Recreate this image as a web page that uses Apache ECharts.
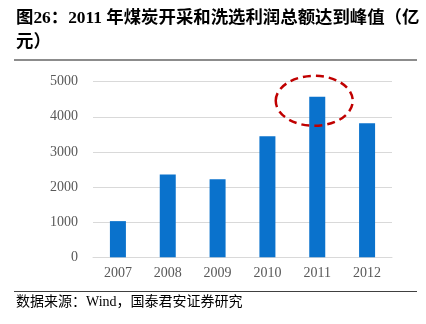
<!DOCTYPE html>
<html>
<head>
<meta charset="utf-8">
<script src="https://cdn.jsdelivr.net/npm/echarts@6/dist/echarts.min.js"></script>
<style>
  html, body { margin: 0; padding: 0; background: #fff; }
  #chart { width: 426px; height: 324px; }
</style>
</head>
<body>
<div id="chart"></div>
<script>
// 煤炭开采和洗选业利润总额（亿元）
const years = ['2007', '2008', '2009', '2010', '2011', '2012'];
const profits = [1030, 2360, 2220, 3450, 4570, 3820];
const yTicks = [0, 1000, 2000, 3000, 4000, 5000];
const peakYear = '2011';

const titleText = '图26：2011 年煤炭开采和洗选利润总额达到峰值（亿\n元）';
const sourceText = '数据来源：Wind，国泰君安证券研究';

const serif = '"Liberation Serif", "Times New Roman", "Noto Sans CJK SC", serif';

const chart = echarts.init(document.getElementById('chart'), null, { renderer: 'canvas' });

const option = {
  animation: false,
  backgroundColor: '#ffffff',
  grid: { left: 93, right: 34, top: 81.7, bottom: 66.7, containLabel: false },
  xAxis: {
    type: 'category',
    data: years,
    axisLine: { show: true, lineStyle: { color: '#d9d9d9', width: 1 } },
    axisTick: { show: false },
    axisLabel: { color: '#595959', fontSize: 14, fontFamily: serif, margin: 9 }
  },
  yAxis: {
    type: 'value',
    min: yTicks[0],
    max: yTicks[yTicks.length - 1],
    interval: yTicks[1] - yTicks[0],
    axisLine: { show: false },
    axisTick: { show: false },
    splitLine: { lineStyle: { color: '#d9d9d9', width: 1 } },
    axisLabel: {
      color: '#595959', fontSize: 14, fontFamily: serif, margin: 15,
      formatter: (v) => String(v)
    }
  },
  series: [{
    type: 'bar',
    data: profits,
    barWidth: 16,
    itemStyle: { color: '#0a72cc' }
  }],
  graphic: [
    {
      id: 'title',
      type: 'text',
      left: 16, top: 7,
      style: {
        text: titleText,
        font: 'bold 17.4px ' + serif,
        fill: '#000',
        lineHeight: 24
      }
    },
    {
      id: 'titleRule',
      type: 'line',
      shape: { x1: 14, y1: 60, x2: 417, y2: 60 },
      style: { stroke: '#8c8c8c', lineWidth: 2 }
    },
    {
      id: 'sourceRule',
      type: 'line',
      shape: { x1: 14, y1: 291.5, x2: 417, y2: 291.5 },
      style: { stroke: '#404040', lineWidth: 1 }
    },
    {
      id: 'source',
      type: 'text',
      left: 16, top: 295,
      style: {
        text: sourceText,
        font: '14px ' + serif,
        fill: '#000'
      }
    }
  ]
};

chart.setOption(option);

// Dashed ellipse highlighting the peak bar, placed from the bar's own scale
const peakIdx = years.indexOf(peakYear);
const peakPt = chart.convertToPixel({ seriesIndex: 0 }, [peakIdx, profits[peakIdx]]);
chart.setOption({
  graphic: [{
    id: 'peakRing',
    type: 'ellipse',
    shape: { cx: peakPt[0] - 3, cy: peakPt[1] + 4, rx: 38.5, ry: 25 },
    style: { fill: 'none', stroke: '#c00000', lineWidth: 2.5, lineDash: [8, 5] },
    z: 100
  }]
});
</script>
</body>
</html>
